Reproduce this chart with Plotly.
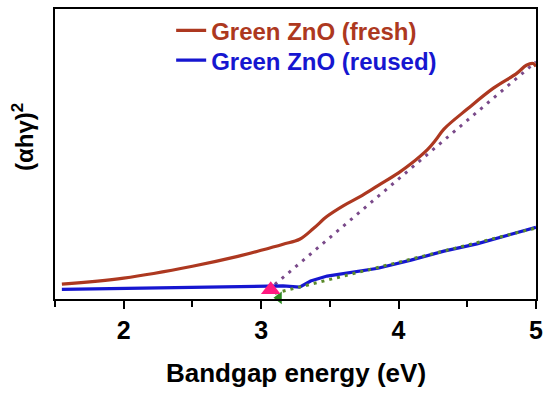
import plotly.graph_objects as go

# Fresh Green ZnO Tauc curve
fresh_x = [1.55, 2.0, 2.5, 2.83, 3.0, 3.16, 3.28, 3.38, 3.48, 3.6, 3.72, 3.85, 4.0, 4.09, 4.21, 4.27, 4.33, 4.5, 4.69, 4.86, 4.93, 4.98, 5.0]
fresh_y = [0.051, 0.072, 0.113, 0.147, 0.168, 0.189, 0.206, 0.243, 0.285, 0.322, 0.353, 0.391, 0.435, 0.466, 0.515, 0.548, 0.586, 0.655, 0.727, 0.778, 0.806, 0.812, 0.802]

# Reused Green ZnO Tauc curve
reused_x = [1.55, 2.0, 2.5, 3.0, 3.16, 3.28, 3.36, 3.48, 3.61, 3.85, 4.09, 4.33, 4.57, 4.80, 5.0]
reused_y = [0.033, 0.036, 0.039, 0.045, 0.045, 0.041, 0.062, 0.079, 0.089, 0.106, 0.134, 0.165, 0.190, 0.219, 0.247]

# Linear extrapolation lines (endpoints)
fit_fresh_x = [3.05, 5.0]
fit_fresh_y = [0.03, 0.818]
fit_reused_x = [3.1, 5.0]
fit_reused_y = [0.02, 0.245]

# Bandgap markers
gap_fresh = (3.07, 0.032)
gap_reused = (3.13, 0.004)

tick_vals = [2, 3, 4, 5]
tick_text = ["2", "3", "4", "5"]

FONT = "Liberation Sans, Arial, sans-serif"
fresh_color = "#ad3820"
reused_color = "#1616d0"

fig = go.Figure()
fig.add_trace(go.Scatter(x=fit_fresh_x, y=fit_fresh_y, mode="lines",
                         line=dict(color="#7a4a8a", width=3, dash="3px,6px"),
                         showlegend=False, hoverinfo="skip"))
fig.add_trace(go.Scatter(x=fresh_x, y=fresh_y, mode="lines", line_shape="spline",
                         line=dict(color=fresh_color, width=3.2),
                         name="<span style='color:%s'>Green ZnO (fresh)</span>" % fresh_color,
                         legend="legend"))
fig.add_trace(go.Scatter(x=reused_x, y=reused_y, mode="lines",
                         line=dict(color=reused_color, width=3.2),
                         name="<span style='color:%s'>Green ZnO (reused)</span>" % reused_color,
                         legend="legend2"))
fig.add_trace(go.Scatter(x=fit_reused_x, y=fit_reused_y, mode="lines",
                         line=dict(color="#5a8a2a", width=3, dash="3px,5px"),
                         showlegend=False, hoverinfo="skip"))
fig.add_trace(go.Scatter(x=[gap_reused[0]], y=[gap_reused[1]], mode="markers",
                         marker=dict(symbol="triangle-left", size=11, color="#2a8a20"),
                         showlegend=False, cliponaxis=False, hoverinfo="skip"))
fig.add_trace(go.Scatter(x=[gap_fresh[0]], y=[gap_fresh[1]], mode="markers",
                         marker=dict(symbol="triangle-up", size=17, color="#ff1a80"),
                         showlegend=False, cliponaxis=False, hoverinfo="skip"))

legend_style = dict(xanchor="left", yanchor="top", bgcolor="rgba(0,0,0,0)", borderwidth=0,
                    font=dict(family=FONT, size=24, weight="bold"), itemwidth=30)

fig.update_layout(
    width=550, height=393,
    margin=dict(l=55, r=10, t=7, b=94),
    paper_bgcolor="white", plot_bgcolor="white",
    font=dict(family=FONT, color="black"),
    legend=dict(x=0.2415, y=1.0024, **legend_style),
    legend2=dict(x=0.2415, y=0.8997, **legend_style),
    xaxis=dict(range=[1.5, 5.0], tickvals=tick_vals, ticktext=tick_text,
               ticks="outside", ticklen=8, tickwidth=2, tickcolor="black",
               minor=dict(tickvals=[1.5, 2.5, 3.5, 4.5], ticks="outside", ticklen=6, tickwidth=2, tickcolor="black"),
               showline=True, linecolor="black", linewidth=2, mirror=True,
               showgrid=False, zeroline=False,
               tickfont=dict(family=FONT, size=25, weight="bold", color="black")),
    yaxis=dict(range=[0, 1.0], showticklabels=False, ticks="",
               showline=True, linecolor="black", linewidth=2, mirror=True,
               showgrid=False, zeroline=False),
    annotations=[
        dict(text="Bandgap energy (eV)", xref="paper", yref="paper", x=0.5, y=-0.255,
             xanchor="center", yanchor="middle", showarrow=False,
             font=dict(family=FONT, size=26, weight="bold", color="black")),
        dict(text="(αhγ)<sup>2</sup>", xref="paper", yref="paper", x=-0.068, y=0.56,
             xanchor="center", yanchor="middle", showarrow=False, textangle=-90,
             font=dict(family=FONT, size=24, weight="bold", color="black")),
    ],
)

fig.write_html("out.html", config={"displayModeBar": False},
               post_script="document.body.style.margin='0';")
